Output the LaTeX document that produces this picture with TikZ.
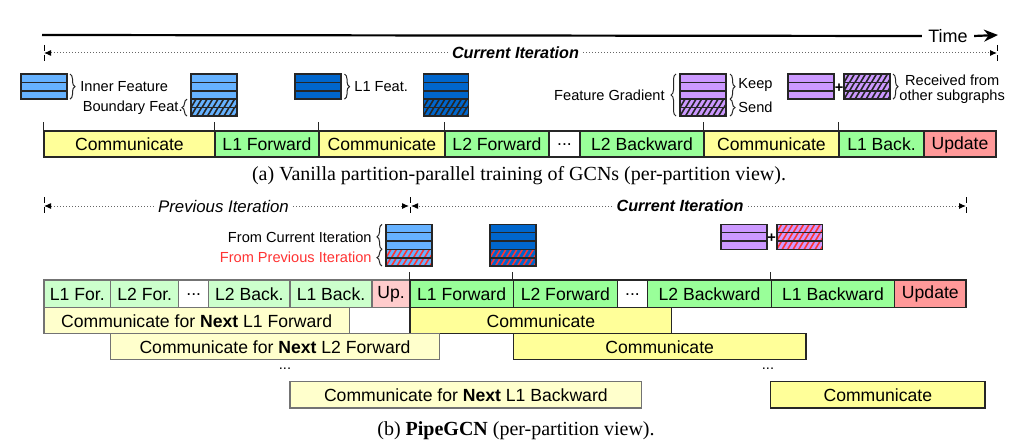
\documentclass[tikz,border=0pt]{standalone}
\usepackage{fontspec}
\setmainfont{Liberation Serif}
\setsansfont{Liberation Sans}
\usetikzlibrary{fit,arrows.meta,decorations.pathreplacing}
\definecolor{cyel}{HTML}{FFFF99}
\definecolor{cgrn}{HTML}{99FF99}
\definecolor{cred}{HTML}{FF9999}
\definecolor{lyel}{HTML}{FFFFCC}
\definecolor{lgrn}{HTML}{CCFFCC}
\definecolor{lred}{HTML}{FFCCCC}
\definecolor{lblue}{HTML}{66B2FF}
\definecolor{dblue}{HTML}{0066CC}
\definecolor{cpur}{HTML}{CC99FF}
\definecolor{hred}{HTML}{FF3333}
\tikzset{
  tbox/.style={draw=black!85, line width=0.7pt, inner sep=0pt},
  pbox/.style={tbox, draw=black!55},
  btext/.style={font=\sffamily\fontsize{8.8}{10}\selectfont, inner sep=0pt},
  legend/.style={font=\sffamily\fontsize{7.3}{8.5}\selectfont, inner sep=0pt},
  iter/.style={densely dotted, black!60, line width=0.5pt},
  itertip/.style={-{Latex[black,length=3.5pt,width=3pt]}},
  endtick/.style={densely dashed, black, line width=0.4pt},
  tickline/.style={black!85, line width=0.5pt},
  brc/.style={decorate, decoration={brace, amplitude=2.5pt}, line width=0.5pt, black!85},
  rowline/.style={line width=0.8pt, black!85},
}
\newcommand\tb[7]{\node[#6, fit={(#2,#3)(#4,#5)}] (#1) {};
  \node[btext] (#1t) at ({(#2+#4)/2},{(#3+#5)/2+0.5}) {#7};}
\newcommand\prow[5]{\fill[#5] (#1,#2) rectangle (#3,#4);\draw[rowline] (#1,#2) rectangle (#3,#4);}
\newcommand\hrow[6]{\fill[#5] (#1,#2) rectangle (#3,#4);
  \begin{scope}\clip (#1,#2) rectangle (#3,#4);
  \foreach \k in {-2,...,10} \draw[#6, line width=0.8pt] ({#1+\k*5.5},#4) -- ++(5,{#2-#4});
  \end{scope}\draw[rowline] (#1,#2) rectangle (#3,#4);}
\begin{document}
\begin{tikzpicture}[x=0.5pt,y=-0.5pt]
\useasboundingbox (0,0) rectangle (1022,444);
% ---------- time axis
\node[font=\sffamily\fontsize{9}{10}\selectfont, inner sep=1pt] (time) at (948,36) {Time};
\coordinate (tl) at (42,35);
\coordinate (tr) at (998,35);
\draw[line width=1.1pt] (tl) -- ([xshift=-2pt]time.west);
\draw[line width=1.1pt, -{Stealth[length=7pt,width=6pt]}] ([xshift=2pt]time.east) -- (tr);
% ---------- (a) iteration
\node[font=\sffamily\bfseries\itshape\fontsize{8.1}{10}\selectfont, inner sep=2pt] (itA) at (515.5,53) {Current Iteration};
\coordinate (ia1) at (44,53);
\coordinate (ia2) at (997,53);
\draw[iter, itertip] (itA.west) -- (ia1);
\draw[iter, itertip] (itA.east) -- (ia2);
\draw[endtick] (44,45) -- (44,62);
\draw[endtick] (997,45) -- (997,62);
% ---------- (a) legend blocks
\prow{21}{74}{66.7}{82.4}{lblue}\prow{21}{82.4}{66.7}{90.8}{lblue}\prow{21}{90.8}{66.7}{99.2}{lblue}
\draw[brc] (70,74) -- (70,99.2);
\node[legend, anchor=west] (inner) at (80,87) {Inner Feature};
\prow{191}{74}{237}{82.4}{lblue}\prow{191}{82.4}{237}{90.8}{lblue}\prow{191}{90.8}{237}{99.2}{lblue}
\hrow{191}{99.2}{237}{107.6}{lblue}{black!85}\hrow{191}{107.6}{237}{116}{lblue}{black!85}
\draw[brc] (187,116) -- (187,99.2);
\node[legend, anchor=east] (bound) at (183,107.5) {Boundary Feat.};
\prow{295}{74}{341}{82.4}{dblue}\prow{295}{82.4}{341}{90.8}{dblue}\prow{295}{90.8}{341}{99.2}{dblue}
\draw[brc] (344.5,74) -- (344.5,99.2);
\node[legend, anchor=west] (l1f) at (354,87) {L1 Feat.};
\prow{423.3}{74}{468.3}{82.4}{dblue}\prow{423.3}{82.4}{468.3}{90.8}{dblue}\prow{423.3}{90.8}{468.3}{99.2}{dblue}
\hrow{423.3}{99.2}{468.3}{107.6}{dblue}{black!85}\hrow{423.3}{107.6}{468.3}{116}{dblue}{black!85}
\prow{680}{74}{726}{82.4}{cpur}\prow{680}{82.4}{726}{90.8}{cpur}\prow{680}{90.8}{726}{99.2}{cpur}
\hrow{680}{99.2}{726}{107.6}{cpur}{black!85}\hrow{680}{107.6}{726}{116}{cpur}{black!85}
\draw[brc] (676,116) -- (676,74);
\node[legend, anchor=east] (fgrad) at (665,95) {Feature Gradient};
\draw[brc] (730,74) -- (730,99.2);
\draw[brc] (730,99.2) -- (730,116);
\node[legend, anchor=west] (keep) at (738,84.5) {Keep};
\node[legend, anchor=west] (send) at (738,107) {Send};
\prow{788}{74}{834}{82.4}{cpur}\prow{788}{82.4}{834}{90.8}{cpur}\prow{788}{90.8}{834}{99.2}{cpur}
\node[legend, font=\sffamily\bfseries\fontsize{7.3}{8.5}\selectfont] (plusA) at (839,88) {+};
\hrow{844}{74}{890}{82.4}{cpur}{black!85}\hrow{844}{82.4}{890}{90.8}{cpur}{black!85}\hrow{844}{90.8}{890}{99.2}{cpur}{black!85}
\draw[brc] (893,74) -- (893,99.2);
\node[legend, anchor=west, align=center, font=\sffamily\fontsize{7.3}{7.6}\selectfont] (recv) at (899,89) {Received from\\other subgraphs};
% ---------- (a) timeline
\tb{a1}{44}{131}{215}{157}{tbox, fill=cyel}{Communicate}
\tb{a2}{215}{131}{319}{157}{tbox, fill=cgrn}{L1 Forward}
\tb{a3}{319}{131}{445}{157}{tbox, fill=cyel}{Communicate}
\tb{a4}{445}{131}{549}{157}{tbox, fill=cgrn}{L2 Forward}
\tb{a5}{549}{131}{580}{157}{tbox, fill=white}{...}
\tb{a6}{580}{131}{704}{157}{tbox, fill=cgrn}{L2 Backward}
\tb{a7}{704}{131}{839}{157}{tbox, fill=cyel}{Communicate}
\tb{a8}{839}{131}{924}{157}{tbox, fill=cgrn}{L1 Back.}
\tb{a9}{924}{131}{996}{157}{tbox, fill=cred}{Update}
\foreach \n in {a1,a2,a3,a4,a7,a8} \draw[tickline] (\n.north west) -- ++(0,-8);
\node[font=\fontsize{10}{12}\selectfont] (capA) at (519,176) {(a) Vanilla partition-parallel training of GCNs (per-partition view).};
% ---------- (b) iterations
\node[font=\sffamily\itshape\fontsize{8.4}{10}\selectfont, inner sep=2pt] (itP) at (223.5,206) {Previous Iteration};
\node[font=\sffamily\bfseries\itshape\fontsize{8.1}{10}\selectfont, inner sep=2pt] (itC) at (680,206) {Current Iteration};
\coordinate (ib1) at (44,206);
\coordinate (ib2) at (409,206);
\coordinate (ib3) at (411,206);
\coordinate (ib4) at (966,206);
\draw[iter, itertip] (itP.west) -- (ib1);
\draw[iter, itertip] (itP.east) -- (ib2);
\draw[iter, itertip] (itC.west) -- (ib3);
\draw[iter, itertip] (itC.east) -- (ib4);
\draw[endtick] (44,197) -- (44,215);
\draw[endtick] (410,197) -- (410,215);
\draw[endtick] (966,197) -- (966,215);
% ---------- (b) legend blocks
\prow{386}{224.3}{432}{232.6}{lblue}\prow{386}{232.6}{432}{241}{lblue}\prow{386}{241}{432}{249.3}{lblue}
\hrow{386}{249.3}{432}{257.7}{lblue}{hred}\hrow{386}{257.7}{432}{266}{lblue}{hred}
\draw[brc] (382,249.3) -- (382,224.3);
\draw[brc] (382,266) -- (382,249.3);
\node[legend, anchor=east] (fcur) at (372,237) {From Current Iteration};
\node[legend, anchor=east, text=hred] (fprev) at (372,257.5) {From Previous Iteration};
\prow{490}{224.3}{535.7}{232.6}{dblue}\prow{490}{232.6}{535.7}{241}{dblue}\prow{490}{241}{535.7}{249.3}{dblue}
\hrow{490}{249.3}{535.7}{257.7}{dblue}{hred}\hrow{490}{257.7}{535.7}{266}{dblue}{hred}
\prow{720.7}{224.3}{766.7}{232.6}{cpur}\prow{720.7}{232.6}{766.7}{241}{cpur}\prow{720.7}{241}{766.7}{249.3}{cpur}
\node[legend, font=\sffamily\bfseries\fontsize{7.3}{8.5}\selectfont] (plusB) at (771.7,238) {+};
\hrow{776.7}{224.3}{822.3}{232.6}{cpur}{hred}\hrow{776.7}{232.6}{822.3}{241}{cpur}{hred}\hrow{776.7}{241}{822.3}{249.3}{cpur}{hred}
% ---------- (b) timeline
\tb{b1}{44}{280}{110.7}{307.3}{pbox, fill=lgrn}{L1 For.}
\tb{b2}{110.7}{280}{178.7}{307.3}{pbox, fill=lgrn}{L2 For.}
\tb{b3}{178.7}{280}{208.7}{307.3}{pbox, fill=white}{...}
\tb{b4}{208.7}{280}{290}{307.3}{pbox, fill=lgrn}{L2 Back.}
\tb{b5}{290}{280}{372}{307.3}{pbox, fill=lgrn}{L1 Back.}
\tb{b6}{372}{280}{410}{307.3}{pbox, fill=lred}{Up.}
\tb{b7}{410}{280}{513.3}{307.3}{tbox, fill=cgrn}{L1 Forward}
\tb{b8}{513.3}{280}{617.3}{307.3}{tbox, fill=cgrn}{L2 Forward}
\tb{b9}{617.3}{280}{647.7}{307.3}{tbox, fill=white}{...}
\tb{b10}{647.7}{280}{771.3}{307.3}{tbox, fill=cgrn}{L2 Backward}
\tb{b11}{771.3}{280}{894.7}{307.3}{tbox, fill=cgrn}{L1 Backward}
\tb{b12}{894.7}{280}{966}{307.3}{tbox, fill=cred}{Update}
\foreach \n in {b7,b8,b11} \draw[tickline] (\n.north west) -- ++(0,-7);
% ---------- (b) communication rows
\tb{c1}{44}{307.3}{349.3}{333.3}{pbox, fill=lyel}{Communicate for \textbf{Next} L1 Forward}
\tb{c2}{410}{307.3}{671.7}{333.3}{tbox, fill=cyel}{Communicate}
\tb{c3}{110.7}{333.3}{439.3}{359.3}{pbox, fill=lyel}{Communicate for \textbf{Next} L2 Forward}
\tb{c4}{513.3}{333.3}{806}{359.3}{tbox, fill=cyel}{Communicate}
\node[legend] (d1) at (285,369) {...};
\node[legend] (d2) at (768,369) {...};
\tb{c5}{290}{381.7}{641.7}{408}{pbox, fill=lyel}{Communicate for \textbf{Next} L1 Backward}
\tb{c6}{770.7}{381.7}{985}{408}{tbox, fill=cyel}{Communicate}
\node[font=\fontsize{10}{12}\selectfont] (capB) at (516,431) {(b) \textbf{PipeGCN} (per-partition view).};
\end{tikzpicture}
\end{document}
